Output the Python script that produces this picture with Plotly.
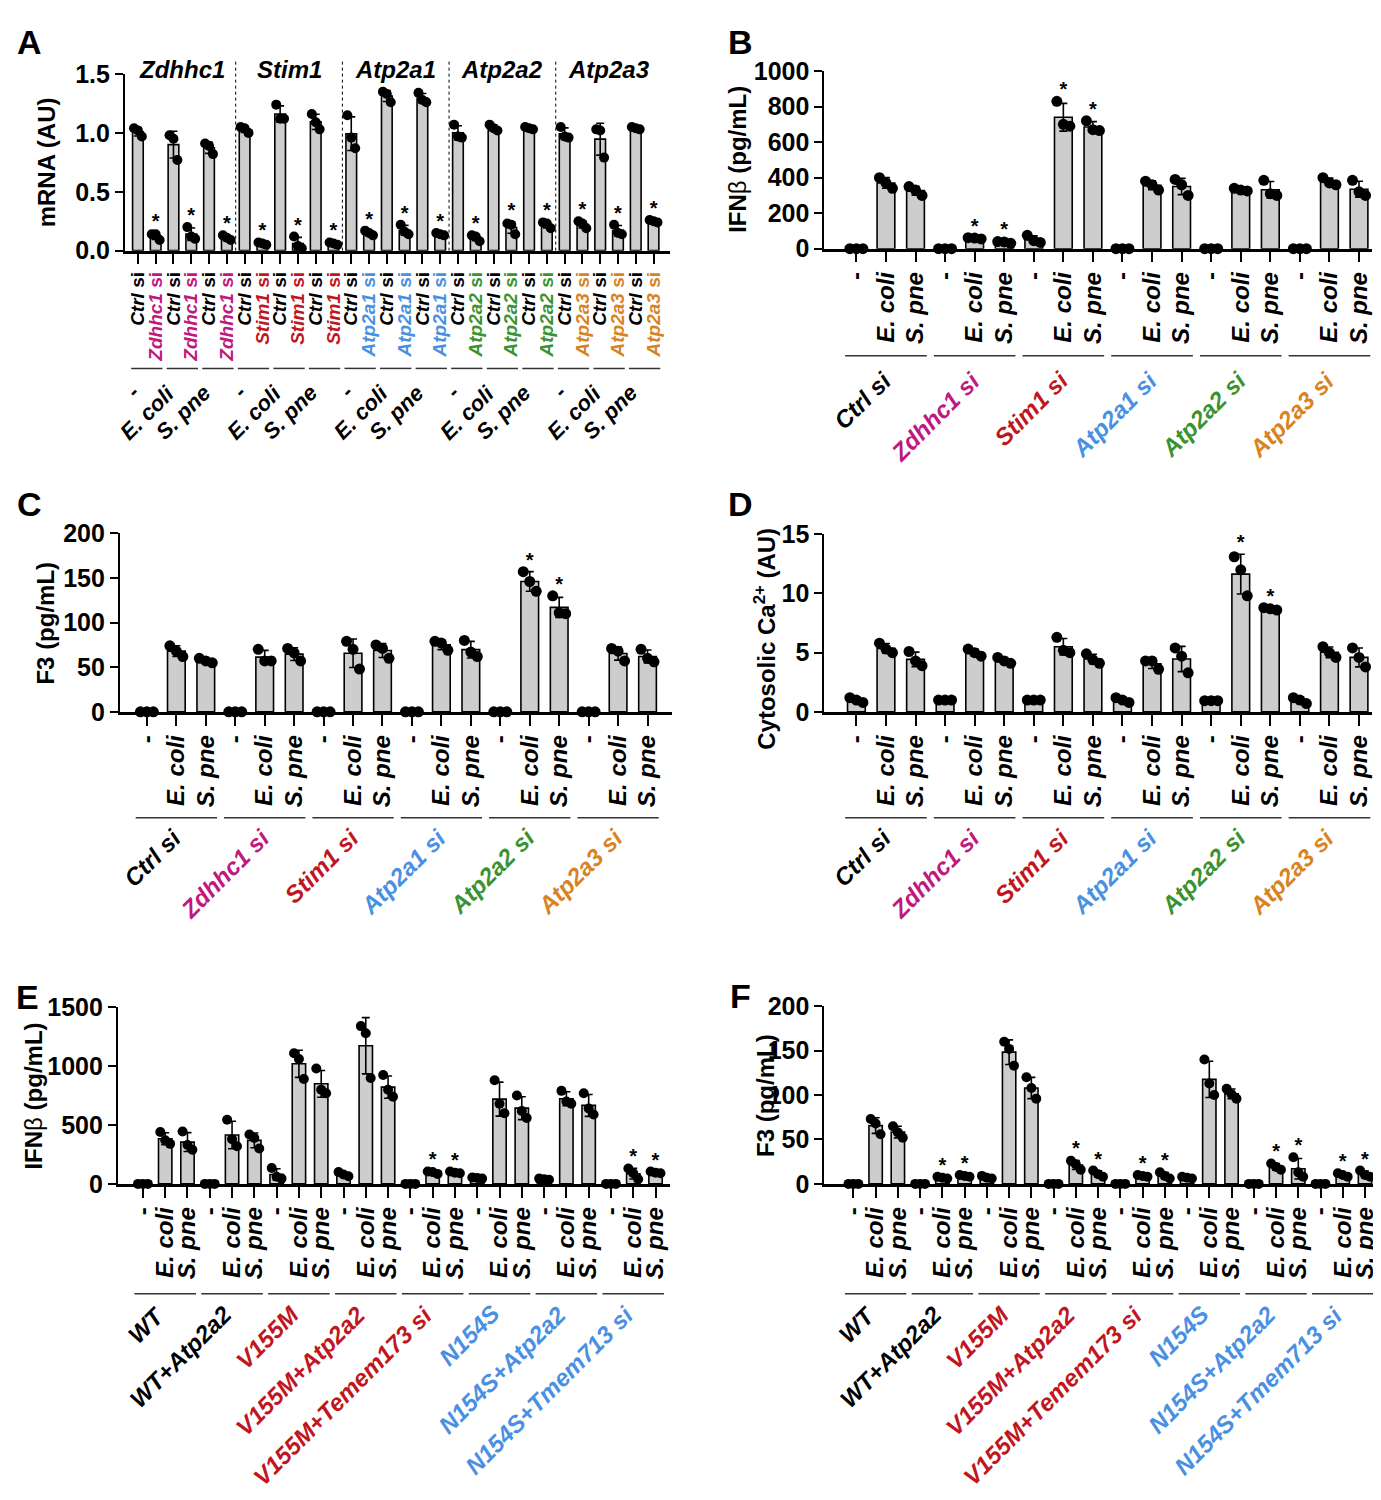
import statistics
import plotly.graph_objects as go

W, H = 1381, 1500
FONT = "Liberation Sans, Arial, sans-serif"

MAG, RED, BLUE, GREEN, ORANGE = "#c0187f", "#c1161d", "#4a90e2", "#3b932f", "#d8831f"

# ---------------- data ----------------
treat = ["-", "<i>E. coli</i>", "<i>S. pne</i>"]
si_groups = ["<i>Ctrl si</i>", "<i>Zdhhc1 si</i>", "<i>Stim1 si</i>",
             "<i>Atp2a1 si</i>", "<i>Atp2a2 si</i>", "<i>Atp2a3 si</i>"]
si_colors = ["#000000", MAG, RED, BLUE, GREEN, ORANGE]

a_genes = ["Zdhhc1", "Stim1", "Atp2a1", "Atp2a2", "Atp2a3"]
a_colors = [MAG, RED, BLUE, GREEN, ORANGE]
a_dots = [
    [1.04, 1.02, 0.97], [0.14, 0.14, 0.09], [0.98, 0.95, 0.77], [0.20, 0.12, 0.10], [0.91, 0.89, 0.82], [0.13, 0.11, 0.09],
    [1.05, 1.04, 1.00], [0.07, 0.06, 0.05], [1.24, 1.12, 1.12], [0.12, 0.04, 0.02], [1.16, 1.09, 1.03], [0.07, 0.06, 0.05],
    [1.15, 0.96, 0.87], [0.17, 0.15, 0.13], [1.35, 1.33, 1.26], [0.22, 0.16, 0.14], [1.34, 1.28, 1.26], [0.15, 0.14, 0.13],
    [1.07, 0.97, 0.96], [0.13, 0.12, 0.08], [1.07, 1.04, 1.02], [0.23, 0.22, 0.14], [1.05, 1.04, 1.03], [0.24, 0.23, 0.19],
    [1.05, 0.97, 0.96], [0.25, 0.23, 0.19], [1.03, 1.02, 0.79], [0.22, 0.15, 0.14], [1.05, 1.04, 1.03], [0.26, 0.25, 0.24],
]
a_stars = [1, 3, 5, 7, 9, 11, 13, 15, 17, 19, 21, 23, 25, 27, 29]

b_dots = [
    [0, 0, 0], [400, 370, 340], [350, 330, 300],
    [0, 0, 0], [62, 60, 55], [40, 38, 30],
    [75, 45, 35], [830, 700, 690], [720, 670, 665],
    [0, 0, 0], [380, 360, 330], [390, 360, 300],
    [0, 0, 0], [340, 330, 325], [385, 310, 300],
    [0, 0, 0], [400, 370, 360], [385, 320, 300],
]
b_stars = [4, 5, 7, 8]

c_dots = [
    [0, 0, 0], [74, 68, 62], [60, 57, 55],
    [0, 0, 0], [70, 57, 57], [71, 66, 57],
    [0, 0, 0], [79, 70, 48], [75, 71, 60],
    [0, 0, 0], [79, 77, 69], [80, 67, 62],
    [0, 0, 0], [157, 146, 135], [130, 111, 110],
    [0, 0, 0], [71, 68, 57], [70, 60, 56],
]
c_stars = [13, 14]

d_dots = [
    [1.2, 1.0, 0.8], [5.8, 5.3, 5.0], [5.1, 4.3, 3.9],
    [1.0, 1.0, 1.0], [5.3, 5.0, 4.7], [4.6, 4.3, 4.1],
    [1.0, 1.0, 1.0], [6.3, 5.2, 5.0], [4.9, 4.4, 4.1],
    [1.2, 1.0, 0.8], [4.3, 4.3, 3.6], [5.4, 4.7, 3.3],
    [0.95, 0.95, 0.95], [13.1, 12.0, 9.8], [8.8, 8.7, 8.6],
    [1.2, 1.0, 0.7], [5.5, 5.0, 4.6], [5.4, 4.6, 3.8],
]
d_stars = [13, 14]

ef_groups = ["<i>WT</i>", "<i>WT+Atp2a2</i>", "<i>V155M</i>", "<i>V155M+Atp2a2</i>",
             "<i>V155M+Temem173 si</i>", "<i>N154S</i>", "<i>N154S+Atp2a2</i>", "<i>N154S+Tmem713 si</i>"]
ef_colors = ["#000000", "#000000", RED, RED, RED, BLUE, BLUE, BLUE]

e_dots = [
    [0, 0, 0], [440, 370, 340], [445, 330, 290],
    [0, 0, 0], [545, 380, 320], [420, 390, 300],
    [135, 60, 45], [1110, 1060, 890], [980, 800, 770],
    [100, 80, 65], [1340, 1280, 900], [925, 800, 740],
    [0, 0, 0], [105, 100, 85], [105, 95, 90],
    [55, 50, 45], [880, 680, 600], [750, 620, 560],
    [45, 40, 35], [790, 700, 680], [770, 640, 590],
    [0, 0, 0], [130, 90, 40], [105, 95, 90],
]
e_stars = [13, 14, 22, 23]

f_dots = [
    [0, 0, 0], [73, 68, 56], [65, 58, 52],
    [0, 0, 0], [8, 7, 6], [10, 9, 8],
    [9, 7, 6], [160, 152, 133], [120, 108, 96],
    [0, 0, 0], [26, 22, 16], [15, 11, 8],
    [0, 0, 0], [10, 9, 8], [13, 9, 6],
    [8, 7, 6], [140, 113, 100], [107, 101, 96],
    [0, 0, 0], [23, 19, 16], [30, 13, 8],
    [0, 0, 0], [12, 10, 8], [15, 10, 8],
]
f_stars = [4, 5, 10, 11, 13, 14, 19, 20, 22, 23]

# ---------------- drawing ----------------
OFFS = [-0.22, 0.0, 0.22]
fig = go.Figure()
annotations = []
shapes = []


def py(y):
    return 1 - y / H


def add_panel(k, dots, stars, ticktext, tsize, groups, gcolors, gsize, gfont, gshift,
              geo, ymax, ydtick, yfmt, dsize, title, title_xy, letter, letter_xy):
    xa = "x" if k == 1 else "x%d" % k
    ya = "y" if k == 1 else "y%d" % k
    ax0, ax1, yb, yt, p0, p1, line_y, lab_y = geo
    n = len(dots)
    xs = list(range(n))
    means = [statistics.mean(d) for d in dots]
    sds = [statistics.stdev(d) for d in dots]

    fig.add_trace(go.Bar(
        x=xs, y=means, width=0.6, xaxis=xa, yaxis=ya,
        marker=dict(color="#cdcdcd", line=dict(color="black", width=1.6)),
        error_y=dict(type="data", array=sds, color="black", thickness=1.6, width=4),
    ))
    dx, dy = [], []
    for i, d in enumerate(dots):
        for j, v in enumerate(d):
            dx.append(i + OFFS[j])
            dy.append(v)
    fig.add_trace(go.Scatter(x=dx, y=dy, mode="markers", xaxis=xa, yaxis=ya, cliponaxis=False,
                             marker=dict(size=dsize, color="black")))
    sy = [max(max(dots[i]), means[i] + sds[i]) for i in stars]
    fig.add_trace(go.Scatter(x=stars, y=sy, mode="text", text=["*"] * len(stars), xaxis=xa, yaxis=ya,
                             textposition="top center", cliponaxis=False,
                             textfont=dict(family=FONT, size=20, color="black", weight="bold")))

    s = (p1 - p0) / (n - 1)
    xkey = "xaxis" if k == 1 else "xaxis%d" % k
    ykey = "yaxis" if k == 1 else "yaxis%d" % k
    fig.update_layout(**{
        xkey: dict(domain=[ax0 / W, ax1 / W], anchor=ya, range=[(ax0 - p0) / s, (ax1 - p0) / s],
                   tickvals=xs, ticktext=ticktext, tickangle=-90, showgrid=False, zeroline=False,
                   showline=True, linewidth=2.5, linecolor="black", ticks="outside", ticklen=11,
                   tickwidth=1.5, tickcolor="black",
                   tickfont=dict(family=FONT, size=tsize, color="black", weight="bold")),
        ykey: dict(domain=[py(yb), py(yt)], anchor=xa, range=[0, ymax], dtick=ydtick, tick0=0,
                   tickformat=yfmt, showgrid=False, zeroline=False, showline=True, linewidth=2,
                   linecolor="black", ticks="outside", ticklen=8, tickwidth=2, tickcolor="black",
                   tickfont=dict(family=FONT, size=25, color="black", weight="bold")),
    })

    for g in range(n // gsize):
        i0 = g * gsize
        i1 = i0 + gsize - 1
        shapes.append(dict(type="line", xref=xa, yref="paper", x0=i0 - 0.38, x1=i1 + 0.38,
                           y0=py(line_y), y1=py(line_y), line=dict(color="#333333", width=1.5)))
        annotations.append(dict(x=(i0 + i1) / 2 + gshift, y=py(lab_y), xref=xa, yref="paper",
                                text=groups[g], textangle=-45, showarrow=False,
                                xanchor="right", yanchor="top",
                                font=dict(family=FONT, size=gfont, color=gcolors[g], weight="bold")))

    annotations.append(dict(x=title_xy[0] / W, y=py(title_xy[1]), xref="paper", yref="paper",
                            text=title, textangle=-90, showarrow=False, xanchor="center", yanchor="middle",
                            font=dict(family=FONT, size=24, color="black", weight="bold")))
    annotations.append(dict(x=letter_xy[0] / W, y=py(letter_xy[1]), xref="paper", yref="paper",
                            text=letter, showarrow=False, xanchor="center", yanchor="middle",
                            font=dict(family=FONT, size=34, color="black", weight="bold")))


# panel A tick labels and pair labels
a_ticks = []
for g, gene in enumerate(a_genes):
    for t in treat:
        a_ticks.append("<i>Ctrl</i> si")
        a_ticks.append('<span style="color:%s"><i>%s</i> si</span>' % (a_colors[g], gene))
a_pairs = treat * len(a_genes)

ifn = "IFN<span style='font-weight:normal'>β</span> (pg/mL)"

add_panel(1, a_dots, a_stars, a_ticks, 19, a_pairs, ["#000000"] * 15, 2, 22, 0.0,
          (117, 662, 233, 53, 130, 646, 353, 362), 1.5, 0.5, ".1f", 10,
          "mRNA (AU)", (38, 143), "A", (22, 20))

bc_ticks = treat * 6
add_panel(2, b_dots, b_stars, bc_ticks, 24, si_groups, si_colors, 3, 24, 0.45,
          (817, 1365, 231, 50, 849, 1352, 340, 348), 1000, 200, "d", 11,
          ifn, (730, 140), "B", (733, 20))
add_panel(3, c_dots, c_stars, bc_ticks, 24, si_groups, si_colors, 3, 24, 0.45,
          (112, 664, 703, 521, 139, 640, 811, 814), 200, 50, "d", 11,
          "F3 (pg/mL)", (38, 612), "C", (22, 491))
add_panel(4, d_dots, d_stars, bc_ticks, 24, si_groups, si_colors, 3, 24, 0.45,
          (817, 1365, 703, 522, 849, 1352, 811, 814), 15, 5, "d", 11,
          "Cytosolic Ca<sup>2+</sup> (AU)", (758, 628), "D", (733, 491))

ef_ticks = treat * 8
add_panel(5, e_dots, e_stars, ef_ticks, 24, ef_groups, ef_colors, 3, 24, 0.35,
          (110, 662, 1184, 1004, 135, 648, 1296, 1300), 1500, 500, "d", 10,
          ifn, (26, 1094), "E", (20, 994))
add_panel(6, f_dots, f_stars, ef_ticks, 24, ef_groups, ef_colors, 3, 24, 0.35,
          (817, 1370, 1184, 1003, 846, 1358, 1296, 1300), 200, 50, "d", 10,
          "F3 (pg/mL)", (758, 1094), "F", (733, 993))

# gene headers and dotted separators in panel A
for g, gene in enumerate(a_genes):
    annotations.append(dict(x=6 * g + 2.5, y=py(48), xref="x", yref="paper", text="<i>%s</i>" % gene,
                            showarrow=False, xanchor="center", yanchor="middle",
                            font=dict(family=FONT, size=24, color="black", weight="bold")))
    if g > 0:
        shapes.append(dict(type="line", xref="x", yref="paper", x0=6 * g - 0.5, x1=6 * g - 0.5,
                           y0=py(233), y1=py(38), line=dict(color="black", width=1, dash="dot")))

fig.update_layout(width=W, height=H, margin=dict(l=0, r=0, t=0, b=0), showlegend=False,
                  paper_bgcolor="white", plot_bgcolor="white", annotations=annotations, shapes=shapes,
                  font=dict(family=FONT, color="black"))
fig.write_html("out.html")
